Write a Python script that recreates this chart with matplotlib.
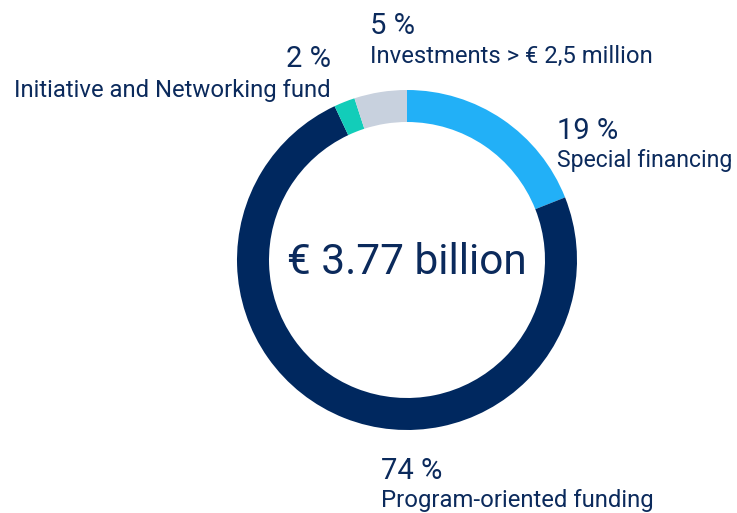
import matplotlib
matplotlib.use("Agg")
import matplotlib.pyplot as plt

categories = ["Special financing", "Program-oriented funding",
              "Initiative and Networking fund", "Investments > € 2,5 million"]
values = [19, 74, 2, 5]
colors = ["#22b0f7", "#00285f", "#12cdb9", "#c8d1de"]
center_label = "€ 3.77 billion"
text_color = "#0b2a5c"

plt.rcParams['font.family'] = ['Roboto', 'DejaVu Sans']

W, H = 737, 513
fig = plt.figure(figsize=(W / 100, H / 100), dpi=100)
ax = fig.add_axes([0, 0, 1, 1])

cx, cy, R = 407, 260, 170
# y axis is inverted below, so start at -90 and go counterclockwise in data
# space, which appears clockwise from the top on screen
ax.pie(values, colors=colors, startangle=-90, counterclock=True,
       center=(cx, cy), radius=R,
       wedgeprops=dict(width=32, linewidth=0))
ax.set_xlim(0, W)
ax.set_ylim(H, 0)
ax.set_aspect('equal')
ax.axis('off')

labels = [
    # (pct text, label, x, pct baseline, label baseline, ha, label size)
    ("19 %", categories[0], 557, 139, 167, 'left', 16.6),
    ("74 %", categories[1], 381, 479, 507, 'left', 17.2),
    ("2 %", categories[2], 331, 67, 97, 'right', 17.2),
    ("5 %", categories[3], 370, 34, 63, 'left', 17.2),
]
for (p, lab, x, yb1, yb2, ha, fs) in labels:
    ax.text(x, yb1, p, fontsize=21, color=text_color, ha=ha, va='baseline')
    ax.text(x, yb2, lab, fontsize=fs, color=text_color, ha=ha, va='baseline')

ax.text(cx, 262, center_label, fontsize=30.5, color=text_color,
        ha='center', va='center')

fig.savefig("out.png", dpi=100)
